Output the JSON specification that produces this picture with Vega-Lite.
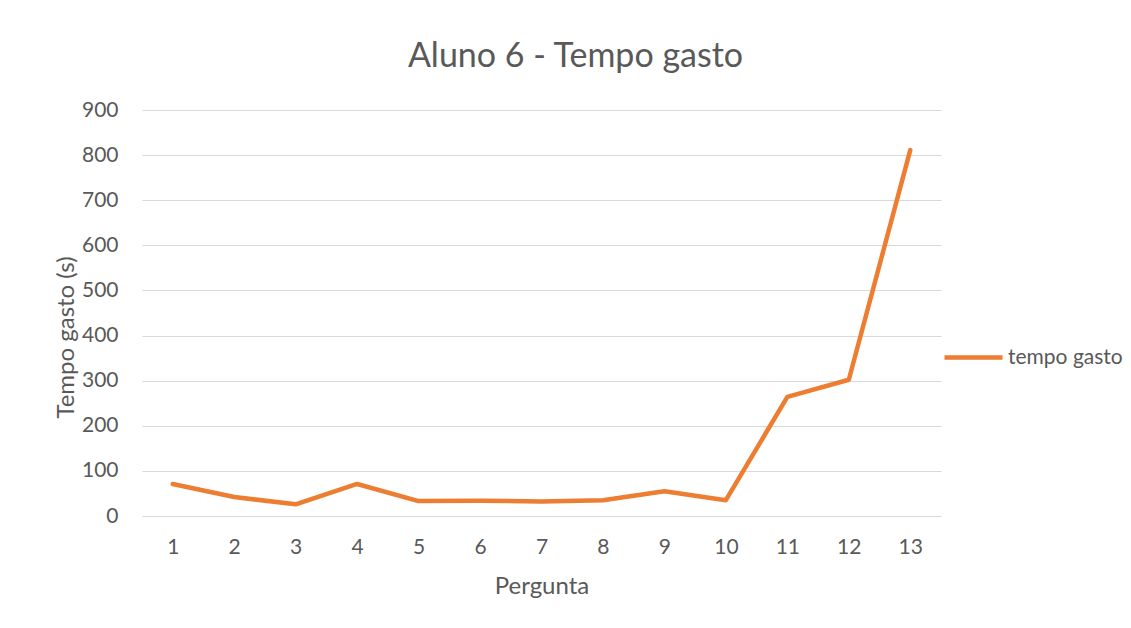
{
  "$schema": "https://vega.github.io/schema/vega-lite/v6.json",
  "width": 799,
  "height": 406,
  "autosize": "none",
  "padding": {"left": 142, "top": 110, "right": 190, "bottom": 112},
  "background": "white",
  "title": {
    "text": "Aluno 6 - Tempo gasto",
    "font": "Lato",
    "fontSize": 34,
    "fontWeight": "normal",
    "color": "#595959",
    "anchor": "middle",
    "dx": 34,
    "dy": 8,
    "offset": 6,
    "baseline": "alphabetic"
  },
  "config": {
    "view": {"stroke": null},
    "font": "Lato"
  },
  "data": {
    "values": [
      {"Pergunta": "1", "serie": "tempo gasto", "tempo": 71},
      {"Pergunta": "2", "serie": "tempo gasto", "tempo": 42},
      {"Pergunta": "3", "serie": "tempo gasto", "tempo": 26},
      {"Pergunta": "4", "serie": "tempo gasto", "tempo": 71},
      {"Pergunta": "5", "serie": "tempo gasto", "tempo": 33},
      {"Pergunta": "6", "serie": "tempo gasto", "tempo": 34},
      {"Pergunta": "7", "serie": "tempo gasto", "tempo": 32},
      {"Pergunta": "8", "serie": "tempo gasto", "tempo": 35},
      {"Pergunta": "9", "serie": "tempo gasto", "tempo": 55},
      {"Pergunta": "10", "serie": "tempo gasto", "tempo": 35},
      {"Pergunta": "11", "serie": "tempo gasto", "tempo": 264},
      {"Pergunta": "12", "serie": "tempo gasto", "tempo": 302},
      {"Pergunta": "13", "serie": "tempo gasto", "tempo": 811}
    ]
  },
  "mark": {"type": "line", "strokeWidth": 4.5, "strokeCap": "round", "strokeJoin": "round"},
  "encoding": {
    "x": {
      "field": "Pergunta",
      "type": "ordinal",
      "sort": null,
      "scale": {"type": "point", "padding": 0.5},
      "axis": {
        "title": "Pergunta",
        "titleFont": "Lato",
        "titleFontSize": 24,
        "titleFontWeight": "normal",
        "titleColor": "#595959",
        "titlePadding": 17,
        "labelAngle": 0,
        "labelFontSize": 21,
        "labelColor": "#595959",
        "labelPadding": 20,
        "domain": false,
        "ticks": false,
        "grid": false
      }
    },
    "y": {
      "field": "tempo",
      "type": "quantitative",
      "scale": {"domain": [0, 900]},
      "axis": {
        "title": "Tempo gasto (s)",
        "titleFont": "Lato",
        "titleFontSize": 24,
        "titleFontWeight": "normal",
        "titleColor": "#595959",
        "titlePadding": 3,
        "titleY": 227,
        "values": [0, 100, 200, 300, 400, 500, 600, 700, 800, 900],
        "labelFontSize": 21,
        "labelColor": "#595959",
        "labelPadding": 24,
        "domain": false,
        "ticks": false,
        "grid": true,
        "gridColor": "#d9d9d9",
        "gridWidth": 1
      }
    },
    "color": {
      "field": "serie",
      "type": "nominal",
      "scale": {"range": ["#ED7D31"]},
      "legend": {
        "title": null,
        "orient": "none",
        "legendX": 800,
        "legendY": 216,
        "symbolType": "stroke",
        "symbolSize": 3364,
        "symbolStrokeWidth": 4.5,
        "labelFontSize": 21,
        "labelColor": "#595959",
        "labelOffset": 3
      }
    }
  }
}
